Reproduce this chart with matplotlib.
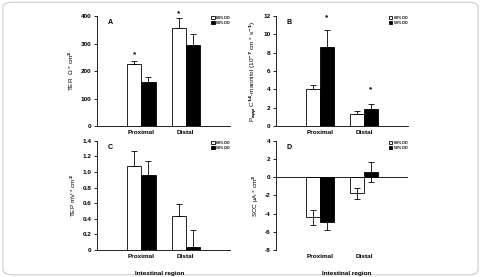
import matplotlib.pyplot as plt
import numpy as np
from matplotlib.patches import FancyBboxPatch

plt.rcParams['font.family'] = ['Liberation Sans', 'DejaVu Sans']
plt.rcParams['font.weight'] = 'bold'
plt.rcParams['axes.unicode_minus'] = False

regions = ['Proximal', 'Distal']
groups = ['88% DO', '58% DO']

# A: TER
ter_hi = [225, 355]
ter_hi_err = [13, 37]
ter_lo = [160, 293]
ter_lo_err = [17, 40]
ter_star = [258, 410]

# B: Papp
papp_hi = [4.05, 1.35]
papp_hi_err = [0.45, 0.3]
papp_lo = [8.6, 1.85]
papp_lo_err = [1.9, 0.55]
papp_star = [11.8, 4.0]

# C: TEP
tep_hi = [1.08, 0.44]
tep_hi_err = [0.19, 0.15]
tep_lo = [0.96, 0.04]
tep_lo_err = [0.18, 0.22]

# D: SCC
scc_hi = [-4.4, -1.75]
scc_hi_err = [0.8, 0.6]
scc_lo = [-4.95, 0.6]
scc_lo_err = [0.85, 1.1]

fig = plt.figure(figsize=(4.81, 2.77), dpi=100)
fig.patches.append(FancyBboxPatch((0.006, 0.008), 0.988, 0.984,
                                  boxstyle='round,pad=0,rounding_size=0.02',
                                  transform=fig.transFigure, fc='none',
                                  ec='#cccccc', lw=0.8))

x = np.array([1, 2])
w = 0.32
fs = 4.6


def panel(pos, hi, hi_err, lo, lo_err, ylim, yticks, ylabel, letter,
          both=False, star=None, star_idx=0, labels=None):
    ax = fig.add_axes(pos)
    ax.bar(x - w / 2, hi, w, color='white', edgecolor='black', lw=0.6)
    ax.bar(x + w / 2, lo, w, color='black', edgecolor='black', lw=0.6)
    if both:
        ax.errorbar(x - w / 2, hi, yerr=hi_err, fmt='none', ecolor='black',
                    elinewidth=0.6, capsize=2, capthick=0.6)
        ax.errorbar(x + w / 2, lo, yerr=lo_err, fmt='none', ecolor='black',
                    elinewidth=0.6, capsize=2, capthick=0.6)
    else:
        ax.errorbar(x - w / 2, hi, yerr=[np.zeros(2), hi_err], fmt='none',
                    ecolor='black', elinewidth=0.6, capsize=2, capthick=0.6)
        ax.errorbar(x + w / 2, lo, yerr=[np.zeros(2), lo_err], fmt='none',
                    ecolor='black', elinewidth=0.6, capsize=2, capthick=0.6)
    if star is not None:
        for i in range(2):
            xs = x[i] - w / 2 if star_idx == 0 else x[i] + w / 2
            ax.text(xs, star[i], '*', ha='center', va='center', fontsize=6)
    ax.set_xlim(0, 3)
    ax.set_ylim(ylim)
    ax.set_yticks(yticks, labels=labels)
    ax.set_xticks(x, regions)
    ax.tick_params(labelsize=fs, length=2, width=0.6, pad=2)
    ax.tick_params(axis='x', length=0, pad=3)
    for s in ['top', 'right']:
        ax.spines[s].set_visible(False)
    for s in ['left', 'bottom']:
        ax.spines[s].set_linewidth(0.6)
    ax.set_ylabel(ylabel, fontsize=fs, labelpad=3)
    ax.text(0.08, 0.97, letter, transform=ax.transAxes, fontsize=fs + 0.5,
            va='top')
    ax.legend(groups, loc='upper right', bbox_to_anchor=(1.02, 1.03),
              frameon=False, fontsize=2.6, handlelength=1.0, handleheight=1.0,
              handletextpad=0.4, labelspacing=0.3)
    return ax


panel([0.201, 0.545, 0.278, 0.397], ter_hi, ter_hi_err, ter_lo, ter_lo_err,
      (0, 400), [0, 100, 200, 300, 400], 'TER  Ω * cm$^2$', 'A',
      star=ter_star, star_idx=0)

panel([0.574, 0.545, 0.274, 0.397], papp_hi, papp_hi_err, papp_lo,
      papp_lo_err, (0, 12), [0, 2, 4, 6, 8, 10, 12],
      'P$_{app}$ C$^{14}$-mannitol (10$^{-7}$ cm * s$^{-1}$)', 'B',
      star=papp_star, star_idx=1)

panel([0.201, 0.0975, 0.278, 0.394], tep_hi, tep_hi_err, tep_lo, tep_lo_err,
      (0, 1.4), [0, 0.2, 0.4, 0.6, 0.8, 1.0, 1.2, 1.4], 'TEP mV * cm$^2$', 'C',
      labels=['0', '0.2', '0.4', '0.6', '0.8', '1.0', '1.2', '1.4'])

axd = panel([0.574, 0.0975, 0.274, 0.394], scc_hi, scc_hi_err, scc_lo,
            scc_lo_err, (-8, 4), [-8, -6, -4, -2, 0, 2, 4],
            'SCC µA * cm$^2$', 'D', both=True)
axd.spines['bottom'].set_visible(False)
axd.axhline(0, color='black', lw=0.6)

fig.text(0.331, 0.008, 'Intestinal region', ha='center', fontsize=fs)
fig.text(0.72, 0.008, 'Intestinal region', ha='center', fontsize=fs)

fig.savefig('out.png', dpi=100)
